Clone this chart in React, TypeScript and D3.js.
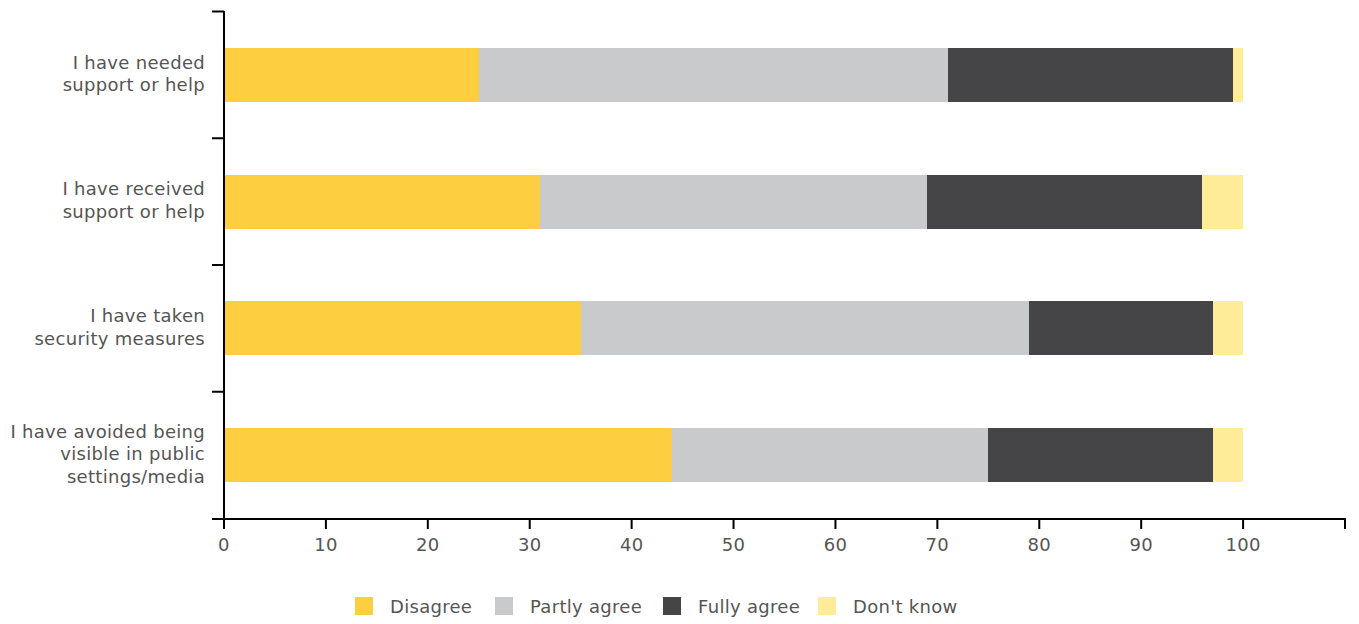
import React from "react";
import * as d3 from "d3";

const categories = [
  ["I have needed", "support or help"],
  ["I have received", "support or help"],
  ["I have taken", "security measures"],
  ["I have avoided being", "visible in public", "settings/media"],
];
const seriesNames = ["Disagree", "Partly agree", "Fully agree", "Don't know"];
const disagree = [25, 31, 35, 44];
const partlyAgree = [46, 38, 44, 31];
const fullyAgree = [28, 27, 18, 22];
const dontKnow = [1, 4, 3, 3];
const xTicks = [0, 10, 20, 30, 40, 50, 60, 70, 80, 90, 100, 110];
const xTickLabels = ["0", "10", "20", "30", "40", "50", "60", "70", "80", "90", "100", ""];
const colors = ["#FDCE3F", "#C9CACC", "#454547", "#FFEC99"];

const W = 1359;
const H = 624;
const FONT = "'DejaVu Sans', sans-serif";
const TEXT = "#555555";
const LS = 0.3;

export default function App() {
  const x = d3.scaleLinear().domain([0, 110]).range([224, 1345]);
  const y = d3
    .scaleBand<number>()
    .domain(categories.map((_, i) => i))
    .range([11.5, 518.5])
    .paddingInner(0.575)
    .paddingOuter(0.2875);
  const series = [disagree, partlyAgree, fullyAgree, dontKnow];
  const rows = categories.map((_, i) => {
    const r: any = {};
    seriesNames.forEach((s, k) => (r[s] = series[k][i]));
    return r;
  });
  const stacked = d3.stack().keys(seriesNames)(rows);
  const step = y.step();
  const boundaries = categories.map((_, i) => (y(i) as number) - (step - y.bandwidth()) / 2);
  const legendX = [355, 495, 663, 818];
  return (
    <svg width={W} height={H} style={{ position: "absolute", left: 0, top: 0, background: "#fff" }}>
      {stacked.map((layer, k) => (
        <g key={k} fill={colors[k]}>
          {layer.map((d, i) => (
            <rect
              key={i}
              x={x(d[0])}
              y={y(i)}
              width={x(d[1]) - x(d[0])}
              height={y.bandwidth()}
              shapeRendering="crispEdges"
            />
          ))}
        </g>
      ))}
      {/* y axis */}
      <line x1={224} x2={224} y1={11} y2={528} stroke="#000" strokeWidth={2} />
      {boundaries.map((b, i) => (
        <line key={i} x1={212} x2={224} y1={b} y2={b} stroke="#000" strokeWidth={2} />
      ))}
      {/* x axis */}
      <line x1={212} x2={1346} y1={519} y2={519} stroke="#000" strokeWidth={2} />
      {xTicks.map((t, i) => (
        <g key={t}>
          <line x1={x(t)} x2={x(t)} y1={519} y2={529} stroke="#000" strokeWidth={2} />
          <text
            x={x(t)}
            y={551}
            textAnchor="middle"
            fontFamily={FONT}
            fontSize={18}
            letterSpacing={LS}
            fill={TEXT}
          >
            {xTickLabels[i]}
          </text>
        </g>
      ))}
      {/* category labels */}
      {categories.map((lines, i) => {
        const cy = (y(i) as number) + y.bandwidth() / 2;
        const lh = 22.5;
        const start = cy - ((lines.length - 1) * lh) / 2 + 5;
        return (
          <text
            key={i}
            textAnchor="end"
            fontFamily={FONT}
            fontSize={18}
            letterSpacing={LS}
            fill={TEXT}
          >
            {lines.map((l, j) => (
              <tspan key={j} x={205} y={start + j * lh}>
                {l}
              </tspan>
            ))}
          </text>
        );
      })}
      {/* legend */}
      {seriesNames.map((s, k) => (
        <g key={s}>
          <rect x={legendX[k]} y={597} width={18} height={18} fill={colors[k]} />
          <text
            x={legendX[k] + 35}
            y={613}
            fontFamily={FONT}
            fontSize={18}
            letterSpacing={LS}
            fill={TEXT}
          >
            {s}
          </text>
        </g>
      ))}
    </svg>
  );
}
